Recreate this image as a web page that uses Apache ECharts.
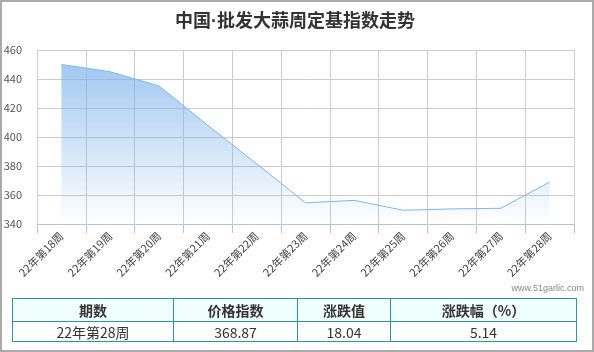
<!DOCTYPE html>
<html><head><meta charset="utf-8">
<script src="https://cdn.jsdelivr.net/npm/echarts@6/dist/echarts.min.js"></script>
<style>
html,body{margin:0;padding:0;background:#fff;}
#wrap{position:relative;width:594px;height:352px;overflow:hidden;font-family:"Noto Sans CJK SC","Noto Sans",sans-serif;}
#chart{position:absolute;left:0;top:0;width:594px;height:352px;}
#frame{position:absolute;left:0;top:0;width:594px;height:352px;box-sizing:border-box;border:2px solid #aaaaaa;pointer-events:none;}
#mark{position:absolute;right:10px;top:283px;font-size:9px;color:#888;font-family:"Liberation Sans",Arial,sans-serif;}
table{position:absolute;left:12px;top:298px;border-collapse:collapse;table-layout:fixed;width:564px;}
td,th{border:1px solid #2a9a94;text-align:center;padding:0;color:#333;font-size:14px;line-height:18px;}
th{background:#f0fffb;height:22px;font-weight:bold;}
td{height:19px;}
</style></head>
<body><div id="wrap">
<div id="chart"></div>
<div id="mark">www.51garlic.com</div>
<table>
<colgroup><col style="width:161px"><col style="width:124px"><col style="width:93px"><col style="width:186px"></colgroup>
<tr><th id="h0"></th><th id="h1"></th><th id="h2"></th><th id="h3"></th></tr>
<tr><td id="d0"></td><td id="d1"></td><td id="d2"></td><td id="d3"></td></tr>
</table>
<div id="frame"></div>
</div>
<script>
var titleText = '中国·批发大蒜周定基指数走势';
var categories = ['22年第18周','22年第19周','22年第20周','22年第21周','22年第22周','22年第23周','22年第24周','22年第25周','22年第26周','22年第27周','22年第28周'];
var indexValues = [450, 445, 435.2, 408, 381.5, 354.6, 356.3, 349.5, 350.4, 350.83, 368.87];
var yTicks = {min: 340, max: 460, interval: 20};
var tableHeader = ['期数','价格指数','涨跌值','涨跌幅（%）'];
var tableRow = ['22年第28周','368.87','18.04','5.14'];

tableHeader.forEach(function(t,i){document.getElementById('h'+i).textContent=t;});
tableRow.forEach(function(t,i){document.getElementById('d'+i).textContent=t;});

var chart = echarts.init(document.getElementById('chart'), null, {renderer:'canvas'});
chart.setOption({
  animation:false,
  textStyle:{fontFamily:'"Noto Sans CJK SC","Noto Sans",sans-serif'},
  title:{text:titleText,left:170,top:8,textStyle:{fontSize:18,fontWeight:'bold',color:'#333',fontFamily:'"Liberation Sans","Noto Sans CJK SC",sans-serif'}},
  grid:{left:37,right:20,top:50,bottom:128},
  xAxis:{type:'category',data:categories,boundaryGap:true,
    axisLine:{show:true,lineStyle:{color:'#b4c6dc',width:1}},
    axisTick:{show:true,length:9,lineStyle:{color:'#b4c6dc'}},
    splitLine:{show:true,lineStyle:{color:'#cccccc',width:1}},
    axisLabel:{rotate:45,margin:10,fontSize:11,color:'#444',interval:0}},
  yAxis:{type:'value',min:yTicks.min,max:yTicks.max,interval:yTicks.interval,
    axisLine:{show:false},axisTick:{show:false},
    splitLine:{show:true,lineStyle:{color:'#cccccc',width:1}},
    axisLabel:{fontSize:11,color:'#555',margin:15}},
  series:[{type:'line',data:indexValues,symbol:'none',
    lineStyle:{color:'#7cb5ec',width:1},
    areaStyle:{color:new echarts.graphic.LinearGradient(0,0,0,1,[{offset:0,color:'rgba(122,178,235,1)'},{offset:1,color:'rgba(122,178,235,0)'}])}}]
});
</script>
</body></html>
